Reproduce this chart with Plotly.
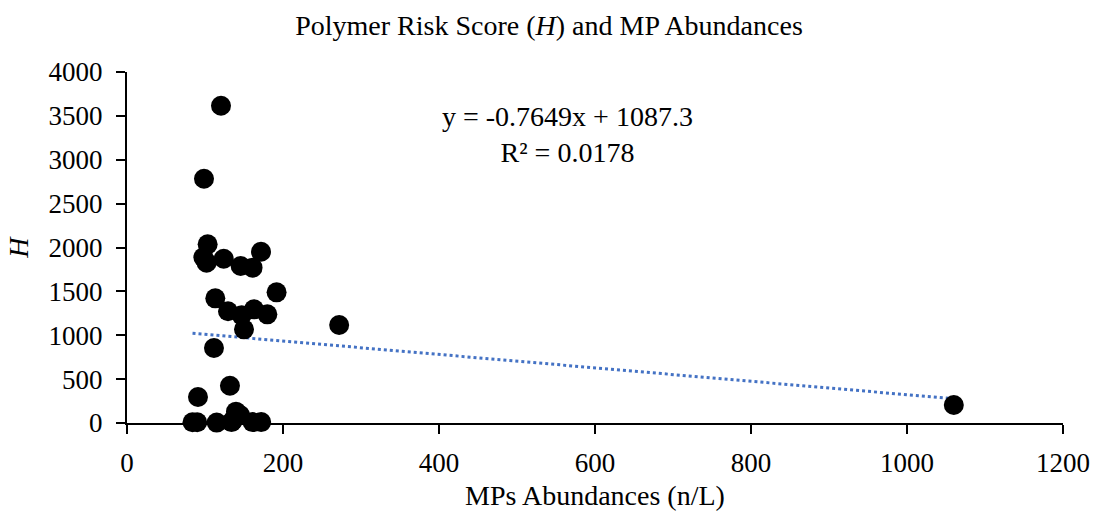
import plotly.graph_objects as go

x_vals = [120.5, 98.7, 103.4, 97.9, 102, 124, 145.7, 161, 171.8, 191.8,
          113.2, 129.5, 147, 162.8, 179.9, 150, 272, 111.5, 132, 91,
          84, 90, 115, 134, 139.7, 145, 136, 161, 172, 1060]
y_vals = [3616, 2784, 2036, 1888, 1827, 1872, 1789, 1770, 1952, 1489,
          1421, 1273, 1227, 1295, 1238, 1067, 1117, 855, 425, 296,
          8, 8, 5, 10, 129, 90, 30, 10, 10, 205]

slope = -0.7649
intercept = 1087.3
trend_x = [min(x_vals), max(x_vals)]
trend_y = [slope * v + intercept for v in trend_x]

x_ticks = [0, 200, 400, 600, 800, 1000, 1200]
y_ticks = [0, 500, 1000, 1500, 2000, 2500, 3000, 3500, 4000]

font = "Liberation Serif, Times New Roman, serif"

fig = go.Figure()
fig.add_trace(go.Scatter(x=trend_x, y=trend_y, mode="lines",
                         line=dict(color="#4472C4", width=3, dash="dot"),
                         showlegend=False, hoverinfo="skip"))
fig.add_trace(go.Scatter(x=x_vals, y=y_vals, mode="markers",
                         marker=dict(color="black", size=20),
                         showlegend=False, cliponaxis=False))

fig.update_layout(
    width=1098, height=514,
    paper_bgcolor="white", plot_bgcolor="white",
    margin=dict(l=127, r=35, t=72, b=91, autoexpand=False),
    font=dict(family=font, size=27, color="black"),
    title=dict(text="Polymer Risk Score (<i>H</i>) and MP Abundances",
               x=0.5, xanchor="center", y=1 - 25 / 514, yanchor="middle",
               font=dict(family=font, size=28, color="black")),
    xaxis=dict(range=[0, 1200], tickvals=x_ticks, showgrid=False, zeroline=False,
               showline=True, linecolor="black", linewidth=2, automargin=False,
               ticks="outside", ticklen=9, tickwidth=2, tickcolor="black",
               ticklabelstandoff=6,
               title=dict(text="MPs Abundances (n/L)", font=dict(size=28), standoff=8)),
    yaxis=dict(range=[0, 4000], tickvals=y_ticks, showgrid=False, zeroline=False,
               showline=True, linecolor="black", linewidth=2, automargin=False,
               ticks="outside", ticklen=9, tickwidth=2, tickcolor="black",
               ticklabelstandoff=8,
               title=dict(text="<i>H</i>", font=dict(size=28), standoff=12)),
    annotations=[dict(text="y = -0.7649x + 1087.3<br>R² = 0.0178",
                      x=565, y=3690, xref="x", yref="y", showarrow=False,
                      font=dict(family=font, size=28, color="black"),
                      xanchor="center", yanchor="top", align="center")],
)

fig.write_html("out.html")
